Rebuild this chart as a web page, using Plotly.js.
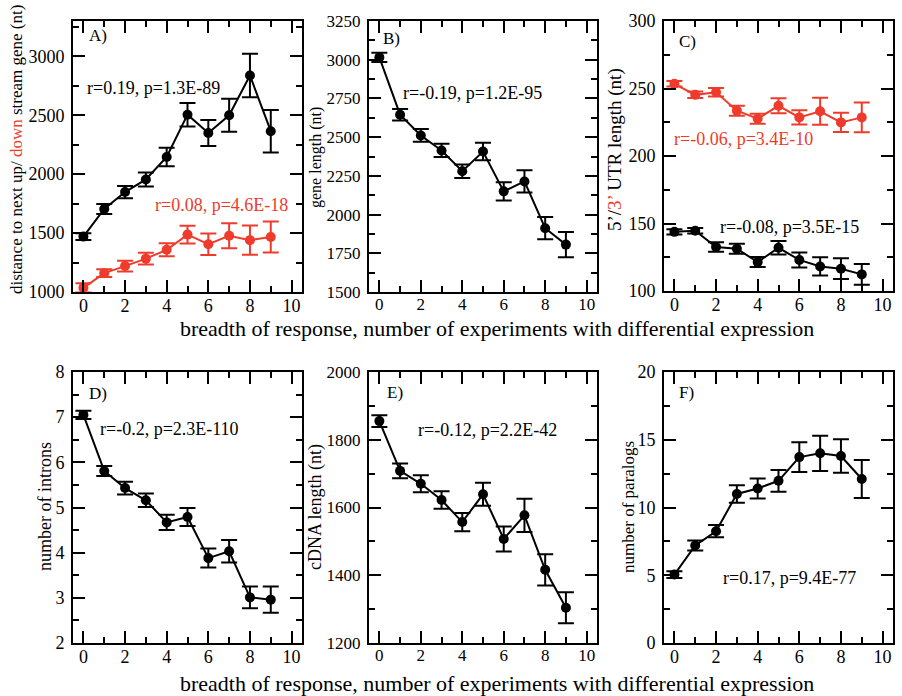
<!DOCTYPE html>
<html>
<head>
<meta charset="utf-8">
<script src="https://cdn.plot.ly/plotly-3.0.1.min.js"></script>
<style>html,body{margin:0;padding:0;background:#fff;}#chart{width:902px;height:696px;}</style>
</head>
<body>
<div id="chart"></div>
<script>
// ---- data ----
const breadth = [0, 1, 2, 3, 4, 5, 6, 7, 8, 9];
const xTicks = [0, 2, 4, 6, 8, 10];

// A) distance to next up/down stream gene
const upDist = [1470, 1705, 1848, 1955, 2146, 2505, 2350, 2500, 2838, 2365];
const upDistErr = [28, 42, 52, 60, 78, 100, 110, 140, 185, 180];
const downDist = [1035, 1160, 1220, 1283, 1358, 1487, 1405, 1477, 1440, 1467];
const downDistErr = [40, 33, 45, 50, 55, 75, 92, 106, 124, 131];
const ticksA = [1000, 1500, 2000, 2500, 3000];

// B) gene length
const geneLen = [3015, 2645, 2511, 2414, 2280, 2407, 2150, 2214, 1912, 1806];
const geneLenErr = [30, 37, 41, 43, 44, 57, 59, 72, 72, 82];
const ticksB = [1500, 1750, 2000, 2250, 2500, 2750, 3000, 3250];

// C) 5'/3' UTR length
const utr5 = [143.8, 144.6, 132.6, 131.3, 121.4, 132.0, 123.0, 118.2, 116.5, 112.3];
const utr5Err = [1.9, 2.0, 3.5, 3.7, 3.7, 5.0, 5.6, 6.8, 7.7, 7.7];
const utr3 = [253.5, 245.3, 247.2, 233.6, 227.6, 237.2, 228.6, 233.1, 224.9, 228.6];
const utr3Err = [2.1, 2.4, 3.1, 3.7, 3.7, 5.5, 5.3, 10, 7.2, 11];
const ticksC = [100, 150, 200, 250, 300];

// D) number of introns
const introns = [7.05, 5.81, 5.43, 5.16, 4.67, 4.79, 3.88, 4.03, 3.01, 2.96];
const intronsErr = [0.09, 0.11, 0.14, 0.15, 0.17, 0.20, 0.21, 0.25, 0.24, 0.29];
const ticksD = [2, 3, 4, 5, 6, 7, 8];

// E) cDNA length
const cdna = [1855, 1708, 1670, 1622, 1557, 1639, 1507, 1577, 1416, 1304];
const cdnaErr = [17, 22, 25, 26, 27, 34, 37, 49, 46, 46];
const ticksE = [1200, 1400, 1600, 1800, 2000];

// F) number of paralogs
const paralogs = [5.05, 7.2, 8.25, 11.0, 11.4, 11.97, 13.72, 14.0, 13.8, 12.1];
const paralogsErr = [0.25, 0.37, 0.45, 0.65, 0.74, 0.8, 1.1, 1.3, 1.23, 1.4];
const ticksF = [0, 5, 10, 15, 20];

const statTexts = {
  A1: 'r=0.19, p=1.3E-89', A2: 'r=0.08, p=4.6E-18',
  B: 'r=-0.19, p=1.2E-95',
  C1: 'r=-0.06, p=3.4E-10', C2: 'r=-0.08, p=3.5E-15',
  D: 'r=-0.2, p=2.3E-110', E: 'r=-0.12, p=2.2E-42', F: 'r=0.17, p=9.4E-77'
};

// ---- style ----
const RED = '#ee3b2b';
const FONT = 'Liberation Serif';
const W = 902, H = 696;

function midpoints(v) {
  const out = [];
  for (let i = 0; i < v.length - 1; i++) out.push((v[i] + v[i + 1]) / 2);
  return out;
}

function series(x, y, err, color, xa, ya) {
  return {
    x: x, y: y, xaxis: xa, yaxis: ya, type: 'scatter', mode: 'lines+markers',
    line: {color: color, width: 2},
    marker: {color: color, size: 10},
    error_y: {type: 'data', array: err, visible: true, color: color, thickness: 2, width: 8},
    hoverinfo: 'x+y', cliponaxis: false
  };
}

const traces = [
  series(breadth, upDist, upDistErr, 'black', 'x', 'y'),
  series(breadth, downDist, downDistErr, RED, 'x', 'y'),
  series(breadth, geneLen, geneLenErr, 'black', 'x2', 'y2'),
  series(breadth, utr3, utr3Err, RED, 'x3', 'y3'),
  series(breadth, utr5, utr5Err, 'black', 'x3', 'y3'),
  series(breadth, introns, intronsErr, 'black', 'x4', 'y4'),
  series(breadth, cdna, cdnaErr, 'black', 'x5', 'y5'),
  series(breadth, paralogs, paralogsErr, 'black', 'x6', 'y6')
];

function px2x(l, r) { return [l / W, r / W]; }
function px2y(t, b) { return [1 - b / H, 1 - t / H]; }

function xaxis(domain, anchor, fs) {
  return {
    domain: domain, anchor: anchor, range: [-0.5, 10.5],
    tickmode: 'array', tickvals: xTicks, ticktext: xTicks.map(String),
    ticks: 'inside', ticklen: 12, tickwidth: 2, tickcolor: 'black',
    minor: {tickmode: 'array', tickvals: breadth.concat([10]).filter(v => xTicks.indexOf(v) < 0),
            ticks: 'inside', ticklen: 6, tickwidth: 2, tickcolor: 'black', showgrid: false},
    showline: true, linewidth: 2, linecolor: 'black', mirror: 'allticks',
    showgrid: false, zeroline: false, fixedrange: true,
    tickfont: {family: FONT, size: fs, color: 'black'}, ticklabelstandoff: -4
  };
}
function yaxis(domain, anchor, range, tv, fs) {
  return {
    domain: domain, anchor: anchor, range: range,
    tickmode: 'array', tickvals: tv, ticktext: tv.map(String),
    ticks: 'inside', ticklen: 12, tickwidth: 2, tickcolor: 'black',
    minor: {tickmode: 'array', tickvals: midpoints(tv).concat(range[1] > tv[tv.length-1] ? [tv[tv.length-1] + (tv[1]-tv[0])/2] : []),
            ticks: 'inside', ticklen: 6, tickwidth: 2, tickcolor: 'black', showgrid: false},
    showline: true, linewidth: 2, linecolor: 'black', mirror: 'allticks',
    showgrid: false, zeroline: false, fixedrange: true,
    tickfont: {family: FONT, size: fs, color: 'black'}, ticklabelstandoff: 3
  };
}

const layout = {
  width: W, height: H, margin: {l: 0, r: 0, t: 0, b: 0},
  paper_bgcolor: 'white', plot_bgcolor: 'white', showlegend: false,
  font: {family: FONT, size: 16, color: 'black'},
  xaxis: xaxis(px2x(73, 302), 'y', 18),   yaxis: yaxis(px2y(21, 292), 'x', [1000, 3300], ticksA, 18),
  xaxis2: xaxis(px2x(369, 597), 'y2', 17), yaxis2: yaxis(px2y(21, 292), 'x2', [1500, 3250], ticksB, 17),
  xaxis3: xaxis(px2x(664, 893), 'y3', 18), yaxis3: yaxis(px2y(21, 291), 'x3', [100, 300], ticksC, 18),
  xaxis4: xaxis(px2x(73, 302), 'y4', 18),  yaxis4: yaxis(px2y(372, 643), 'x4', [2, 8], ticksD, 18),
  xaxis5: xaxis(px2x(369, 597), 'y5', 17), yaxis5: yaxis(px2y(372, 643), 'x5', [1200, 2000], ticksE, 17),
  xaxis6: xaxis(px2x(664, 893), 'y6', 18), yaxis6: yaxis(px2y(372, 643), 'x6', [0, 20], ticksF, 18),
  annotations: []
};

function pann(text, xp, yp, size, opts) {
  return Object.assign({
    text: text, xref: 'paper', yref: 'paper', x: xp / W, y: 1 - yp / H,
    showarrow: false, font: {family: FONT, size: size, color: 'black'},
    xanchor: 'center', yanchor: 'middle'
  }, opts || {});
}
function dann(text, xa, ya, x, y, color) {
  return {text: text, xref: xa, yref: ya, x: x, y: y, showarrow: false,
          font: {family: FONT, size: 18, color: color}, xanchor: 'center', yanchor: 'middle'};
}

const xTitle = 'breadth of response, number of experiments with differential expression';
layout.annotations.push(
  pann(xTitle, 497, 329, 22),
  pann(xTitle, 497, 683, 22),
  pann('distance to next up/ <span style="color:' + RED + '">down</span> stream gene (nt)', 17, 150, 17, {textangle: -90}),
  pann('gene length (nt)', 316, 158, 16, {textangle: -90}),
  pann('5’/<span style="color:' + RED + '">3’</span> UTR length (nt)', 615, 150, 19, {textangle: -90}),
  pann('number of introns', 45, 507, 18, {textangle: -90}),
  pann('cDNA length (nt)', 315, 507, 18, {textangle: -90}),
  pann('number of paralogs', 628, 507, 17, {textangle: -90}),
  pann('A)', 87, 35, 17, {xanchor: 'left'}),
  pann('B)', 381, 39, 17, {xanchor: 'left'}),
  pann('C)', 677, 42, 17, {xanchor: 'left'}),
  pann('D)', 87, 393, 17, {xanchor: 'left'}),
  pann('E)', 385, 392, 17, {xanchor: 'left'}),
  pann('F)', 677, 392, 17, {xanchor: 'left'}),
  dann(statTexts.A1, 'x', 'y', 3.35, 2729, 'black'),
  dann(statTexts.A2, 'x', 'y', 6.62, 1737, RED),
  dann(statTexts.B, 'x2', 'y2', 4.47, 2784, 'black'),
  dann(statTexts.C1, 'x3', 'y3', 3.3, 212.3, RED),
  dann(statTexts.C2, 'x3', 'y3', 5.55, 147.2, 'black'),
  dann(statTexts.D, 'x4', 'y4', 4.12, 6.73, 'black'),
  dann(statTexts.E, 'x5', 'y5', 5.23, 1829, 'black'),
  dann(statTexts.F, 'x6', 'y6', 5.55, 4.77, 'black')
);

Plotly.newPlot('chart', traces, layout, {displayModeBar: false, staticPlot: true});
</script>
</body>
</html>
